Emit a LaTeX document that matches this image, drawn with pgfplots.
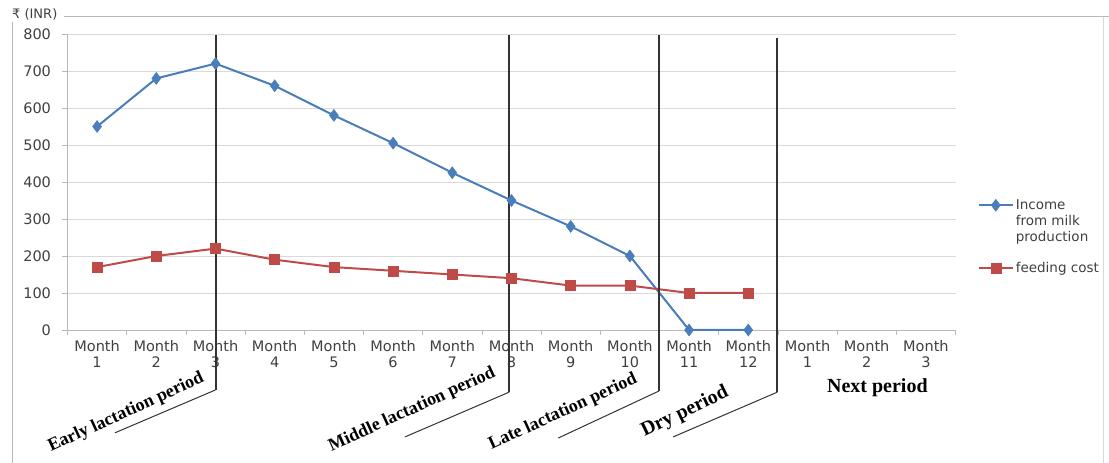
\documentclass[border=0pt]{standalone}
\usepackage{fontspec}
\setmainfont{DejaVu Sans}
\newfontfamily\serifb{Liberation Serif}
\usepackage{pgfplots}
\pgfplotsset{compat=1.18}
\definecolor{incblue}{RGB}{74,126,187}
\definecolor{costred}{RGB}{190,75,72}
\definecolor{gridgray}{RGB}{217,217,217}
\definecolor{txtgray}{RGB}{64,64,64}
\begin{document}
\begin{tikzpicture}[x=1pt,y=1pt]
\useasboundingbox (0,0) rectangle (1109,463);
\draw[gridgray!85!black, line width=1pt] (12,441) -- (12,0);
\draw[gridgray!85!black, line width=1pt] (64,446) -- (1109,446);
\draw[gridgray, line width=0.8pt] (1103,446) -- (1103,0);
\node[anchor=west, font=\fontsize{13}{15}\selectfont, text=txtgray, inner sep=0] at (12,449) {₹ (INR)};
\begin{axis}[at={(67.5pt,133pt)}, anchor=south west, scale only axis,
  width=888pt, height=296pt,
  xmin=-0.5, xmax=14.5, ymin=0, ymax=800,
  ytick={0,100,...,800},
  minor ytick={0,100,...,800},
  xtick={0,...,14},
  minor xtick={-0.5,0.5,...,14.5},
  xticklabels={{Month\\1},{Month\\2},{Month\\3},{Month\\4},{Month\\5},{Month\\6},{Month\\7},{Month\\8},{Month\\9},{Month\\10},{Month\\11},{Month\\12},{Month\\1},{Month\\2},{Month\\3}},
  /pgf/number format/assume math mode=true,
  major tick length=0pt, minor tick length=5pt, tick align=outside,
  tick style={gridgray!85!black, line width=0.8pt},
  axis lines*=left,
  axis line style={gridgray!85!black, line width=0.8pt},
  ymajorgrids, grid style={gridgray, line width=0.8pt},
  ticklabel style={font=\fontsize{14.5}{16}\selectfont, text=txtgray},
  xticklabel style={align=center, yshift=-7pt},
  yticklabel style={xshift=-13pt},
  clip=false,
  legend image code/.code={\draw[mark repeat=2,mark phase=2,#1] plot coordinates {(0pt,4.5pt) (17pt,4.5pt) (34pt,4.5pt)};},
  legend style={at={(1.0215,0.4535)}, anchor=north west, draw=none, fill=none,
    font=\fontsize{13.5}{16}\selectfont, text=txtgray, cells={anchor=base west}, row sep=0pt},
]
\addplot[incblue, line width=2pt, mark=diamond*, mark size=6pt, mark options={fill=incblue, line width=0.5pt}]
  coordinates {(0,550)(1,680)(2,720)(3,660)(4,580)(5,505)(6,425)(7,350)(8,280)(9,200)(10,0)(11,0)};
\addlegendentry{Income}
\addlegendimage{empty legend}
\addlegendentry{from milk}
\addlegendimage{empty legend}
\addlegendentry{production}
\addplot[costred, line width=2pt, mark=square*, mark size=5pt, mark options={fill=costred, line width=0.5pt}]
  coordinates {(0,170)(1,200)(2,220)(3,190)(4,170)(5,160)(6,150)(7,140)(8,120)(9,120)(10,100)(11,100)};
\addlegendentry{\rule{0pt}{26pt}feeding cost}
% period separators
\draw[black!80, line width=2pt] (axis cs:2,797) -- (axis cs:2,-162);
\draw[black!80, line width=1pt] (axis cs:2,-162) -- (axis cs:0.3,-278);
\draw[black!80, line width=2pt] (axis cs:6.96,797) -- (axis cs:6.96,-168);
\draw[black!80, line width=1pt] (axis cs:6.96,-168) -- (axis cs:5.2,-289);
\draw[black!80, line width=2pt] (axis cs:9.49,797) -- (axis cs:9.49,-165);
\draw[black!80, line width=1pt] (axis cs:9.49,-165) -- (axis cs:7.79,-292);
\draw[black!80, line width=2pt] (axis cs:11.49,789) -- (axis cs:11.49,-168);
\draw[black!80, line width=1pt] (axis cs:11.49,-168) -- (axis cs:9.73,-289);
\node[rotate=24.6, font=\serifb\bfseries\fontsize{18}{20}\selectfont] at (axis cs:0.49,-224) {Early lactation period};
\node[rotate=24.6, font=\serifb\bfseries\fontsize{18}{20}\selectfont] at (axis cs:5.32,-216) {Middle lactation period};
\node[rotate=24.6, font=\serifb\bfseries\fontsize{18}{20}\selectfont] at (axis cs:7.87,-222) {Late lactation period};
\node[rotate=25.6, font=\serifb\bfseries\fontsize{20}{22}\selectfont] at (axis cs:9.93,-222) {Dry period};
\node[font=\serifb\bfseries\fontsize{20}{22}\selectfont] at (axis cs:13.18,-157) {Next period};
\end{axis}
\end{tikzpicture}
\end{document}
